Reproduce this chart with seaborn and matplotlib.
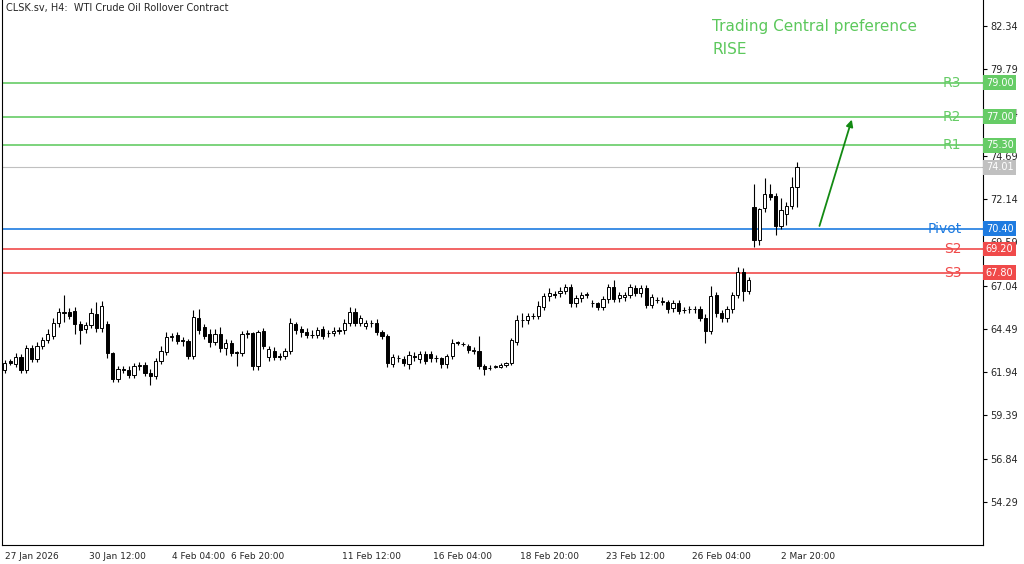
import matplotlib
matplotlib.use("Agg")
import matplotlib.pyplot as plt
import seaborn as sns
import numpy as np
import pandas as pd

opens = [62.10,62.60,62.43,62.85,62.10,63.35,62.72,63.50,63.84,64.07,64.82,65.45,65.50,65.56,64.78,64.46,64.72,65.35,64.52,64.76,
63.05,61.54,62.11,62.10,61.78,62.30,62.36,61.91,61.72,62.60,63.15,63.99,64.13,63.80,63.78,62.91,65.15,64.58,64.17,63.74,
64.19,63.38,63.64,63.11,63.09,64.17,64.23,62.30,64.37,62.81,63.21,62.85,62.89,63.19,64.78,64.46,64.33,64.13,64.13,64.46,
64.23,64.27,64.39,64.42,64.86,65.50,64.86,64.66,64.82,64.86,64.33,64.09,62.42,62.75,62.71,62.42,62.91,62.70,63.00,63.00,
62.75,62.75,62.40,62.91,63.70,63.60,63.48,63.21,63.21,62.32,62.17,62.27,62.27,62.36,62.46,63.74,65.01,65.01,65.25,65.25,
65.80,66.43,66.55,66.59,66.74,66.94,66.00,66.29,66.49,65.99,65.99,65.80,66.23,66.98,66.29,66.35,66.49,66.88,66.59,66.88,
65.90,66.19,66.10,66.10,65.70,65.99,65.60,65.64,65.64,65.64,65.15,64.39,66.49,65.41,65.11,65.64,66.49,67.86,66.74,71.70,
69.73,71.60,72.44,72.32,70.55,71.26,71.75,72.87]
closes = [62.46,62.47,62.85,62.10,63.35,62.72,63.50,63.84,64.17,64.86,65.50,65.50,65.27,64.78,64.42,64.72,65.40,64.52,65.84,63.05,
61.54,62.11,62.10,61.78,62.30,62.36,61.91,61.72,62.60,63.19,63.99,64.07,63.78,63.78,62.91,65.21,64.42,64.09,63.74,64.19,
63.35,63.68,63.09,63.07,64.17,64.23,62.30,64.33,63.50,63.29,62.85,62.84,63.19,64.82,64.42,64.29,64.13,64.13,64.42,64.09,
64.23,64.39,64.39,64.86,65.50,64.86,65.11,64.82,64.82,64.33,64.09,62.46,62.81,62.75,62.50,62.97,62.81,63.01,62.62,62.75,
62.75,62.40,62.91,63.68,63.64,63.60,63.25,63.21,62.32,62.13,62.17,62.27,62.36,62.46,63.84,65.01,65.01,65.25,65.25,65.84,
66.43,66.59,66.49,66.74,66.94,66.00,66.29,66.49,66.49,65.99,65.80,66.23,66.94,66.25,66.49,66.49,66.94,66.62,66.88,65.90,
66.35,66.19,66.10,65.64,65.99,65.56,65.60,65.64,65.64,65.15,64.39,66.43,65.41,65.11,65.64,66.49,67.86,66.74,67.37,69.73,
71.53,72.42,72.28,70.55,71.50,71.75,72.87,74.05]
upper_wick = [0.2,0.1,0.2,0.15,0.2,0.2,0.2,0.2,0.3,0.3,0.2,1.0,0.2,0.2,0.2,0.2,0.3,0.75,0.3,0.2,
0.1,0.2,0.2,0.2,0.2,0.2,0.2,0.2,0.2,0.3,0.3,0.2,0.2,0.2,0.1,0.4,0.5,0.2,0.3,0.3,
0.4,0.2,0.2,0.1,0.2,0.2,0.1,0.1,0.2,0.2,0.2,0.2,0.2,0.3,0.1,0.2,0.2,0.3,0.2,0.2,
0.2,0.2,0.2,0.2,0.3,0.2,0.2,0.2,0.2,0.2,0.1,0.1,0.2,0.2,0.2,0.2,0.2,0.2,0.2,0.2,
0.2,0.1,0.1,0.2,0.1,0.1,0.1,0.2,0.85,0.1,0.2,0.1,0.1,0.1,0.1,0.3,0.4,0.2,0.2,0.3,
0.2,0.3,0.2,0.2,0.2,0.2,0.2,0.2,0.2,0.2,0.1,0.2,0.2,0.4,0.2,0.2,0.2,0.2,0.2,0.2,
0.2,0.2,0.3,0.1,0.2,0.2,0.2,0.2,0.2,0.2,0.2,0.6,0.2,0.2,0.2,0.2,0.3,0.2,0.2,1.33,
0.1,0.94,0.6,0.2,0.7,0.2,0.55,0.25]
lower_wick = [0.2,0.1,0.2,0.2,0.2,0.2,0.2,0.2,0.2,0.2,0.2,0.55,0.2,0.6,0.8,0.2,0.2,0.2,0.2,0.3,
0.2,0.2,0.2,0.2,0.2,0.2,0.2,0.55,0.2,0.2,0.2,0.2,0.2,0.3,0.2,0.2,0.2,0.2,0.3,0.2,
0.2,0.4,0.2,0.75,0.2,0.2,0.2,0.2,0.2,0.2,0.2,0.2,0.2,0.2,0.2,0.3,0.2,0.2,0.2,0.2,
0.2,0.2,0.2,0.2,0.2,0.2,0.2,0.2,0.2,0.2,0.2,0.2,0.2,0.2,0.2,0.3,0.2,0.2,0.2,0.2,
0.2,0.2,0.2,0.2,0.1,0.1,0.2,0.2,0.2,0.35,0.1,0.1,0.1,0.1,0.1,0.2,0.4,0.2,0.2,0.2,
0.2,0.3,0.2,0.2,0.2,0.2,0.2,0.2,0.2,0.2,0.2,0.2,0.2,0.2,0.2,0.2,0.2,0.2,0.2,0.2,
0.2,0.2,0.2,0.2,0.2,0.2,0.2,0.2,0.2,0.2,0.7,0.2,0.2,0.2,0.2,0.2,0.2,0.6,0.2,0.39,
0.3,0.2,0.2,0.5,0.15,0.65,0.2,1.2]

tick_idx = [0, 21, 36, 47, 68, 85, 101, 117, 133, 149]
tick_labels = ["27 Jan 2026", "30 Jan 12:00", "4 Feb 04:00", "6 Feb 20:00", "11 Feb 12:00",
               "16 Feb 04:00", "18 Feb 20:00", "23 Feb 12:00", "26 Feb 04:00", "2 Mar 20:00"]
price_ticks = [82.34, 79.79, 77.24, 74.69, 72.14, 69.59, 67.04, 64.49, 61.94, 59.39, 56.84, 54.29]

level_names = ["R3", "R2", "R1", "Pivot", "S2", "S3"]
level_values = [79.00, 77.00, 75.30, 70.40, 69.20, 67.80]
level_colors = ["#66cc66", "#66cc66", "#66cc66", "#1e7be0", "#f04a4a", "#f04a4a"]
current_price = 74.01
arrow_start = (151, 70.40)
arrow_end = (157.3, 76.98)

sns.set_style("white")
plt.rcParams['font.family'] = ['DejaVu Sans']

df = pd.DataFrame({"o": opens, "c": closes})
df["i"] = np.arange(len(df))
df["hi"] = np.maximum(df.o, df.c) + np.array(upper_wick)
df["lo"] = np.minimum(df.o, df.c) - np.array(lower_wick)

fig = plt.figure(figsize=(10.24, 5.64), dpi=100)
ax = fig.add_axes([0.002, 19/564, 981/1024, 545/564])

ax.vlines(df.i, df.lo, df.hi, color="black", lw=0.8, zorder=3)
bottom = np.minimum(df.o, df.c)
height = np.maximum(np.abs(df.c - df.o), 0.03)
face = np.where(df.c >= df.o, "white", "black")
ax.bar(df.i, height, bottom=bottom, width=0.6, color=face, edgecolor="black", lw=0.7, zorder=4)

ax.set_xlim(-0.5, 181.5)
ax.set_ylim(51.76, 83.87)

for n, v, col in zip(level_names, level_values, level_colors):
    ax.axhline(v, color=col, lw=1.2, zorder=2)
    ax.text(177.5, v, n, color=col, fontsize=10, ha="right", va="center", zorder=5)
    ax.text(182.0, v, f"{v:.2f}", color="white", fontsize=7, ha="left", va="center",
            clip_on=False, zorder=10,
            bbox=dict(boxstyle="square,pad=0.25", fc=col, ec="none"))
ax.axhline(current_price, color="#c0c0c0", lw=0.8, zorder=2)
ax.text(182.0, current_price, f"{current_price:.2f}", color="white", fontsize=7, ha="left", va="center",
        clip_on=False, zorder=10, bbox=dict(boxstyle="square,pad=0.25", fc="#c0c0c0", ec="none"))

ax.annotate("", xy=arrow_end, xytext=arrow_start,
            arrowprops=dict(arrowstyle="-|>", color="#138a13", lw=1.3, mutation_scale=10), zorder=6)

ax.yaxis.tick_right()
ax.set_yticks(price_ticks)
ax.set_yticklabels([f"{p:.2f}" for p in price_ticks], fontsize=7)
ax.set_xticks(tick_idx)
ax.set_xticklabels(tick_labels, fontsize=6.5)
ax.get_xticklabels()[0].set_ha("left")
ax.tick_params(axis="both", length=3, color="black", direction="out", pad=2)
for s in ax.spines.values():
    s.set_color("black")
    s.set_linewidth(0.8)
ax.spines["top"].set_visible(False)

ax.text(0.004, 0.995, "CLSK.sv, H4:  WTI Crude Oil Rollover Contract", transform=ax.transAxes,
        fontsize=7, ha="left", va="top")
fig.text(712/1024, 1 - 27/564, "Trading Central preference", color="#5cc85c", fontsize=11, va="center")
fig.text(712/1024, 1 - 49/564, "RISE", color="#5cc85c", fontsize=11, va="center")

fig.savefig("out.png", dpi=100)
